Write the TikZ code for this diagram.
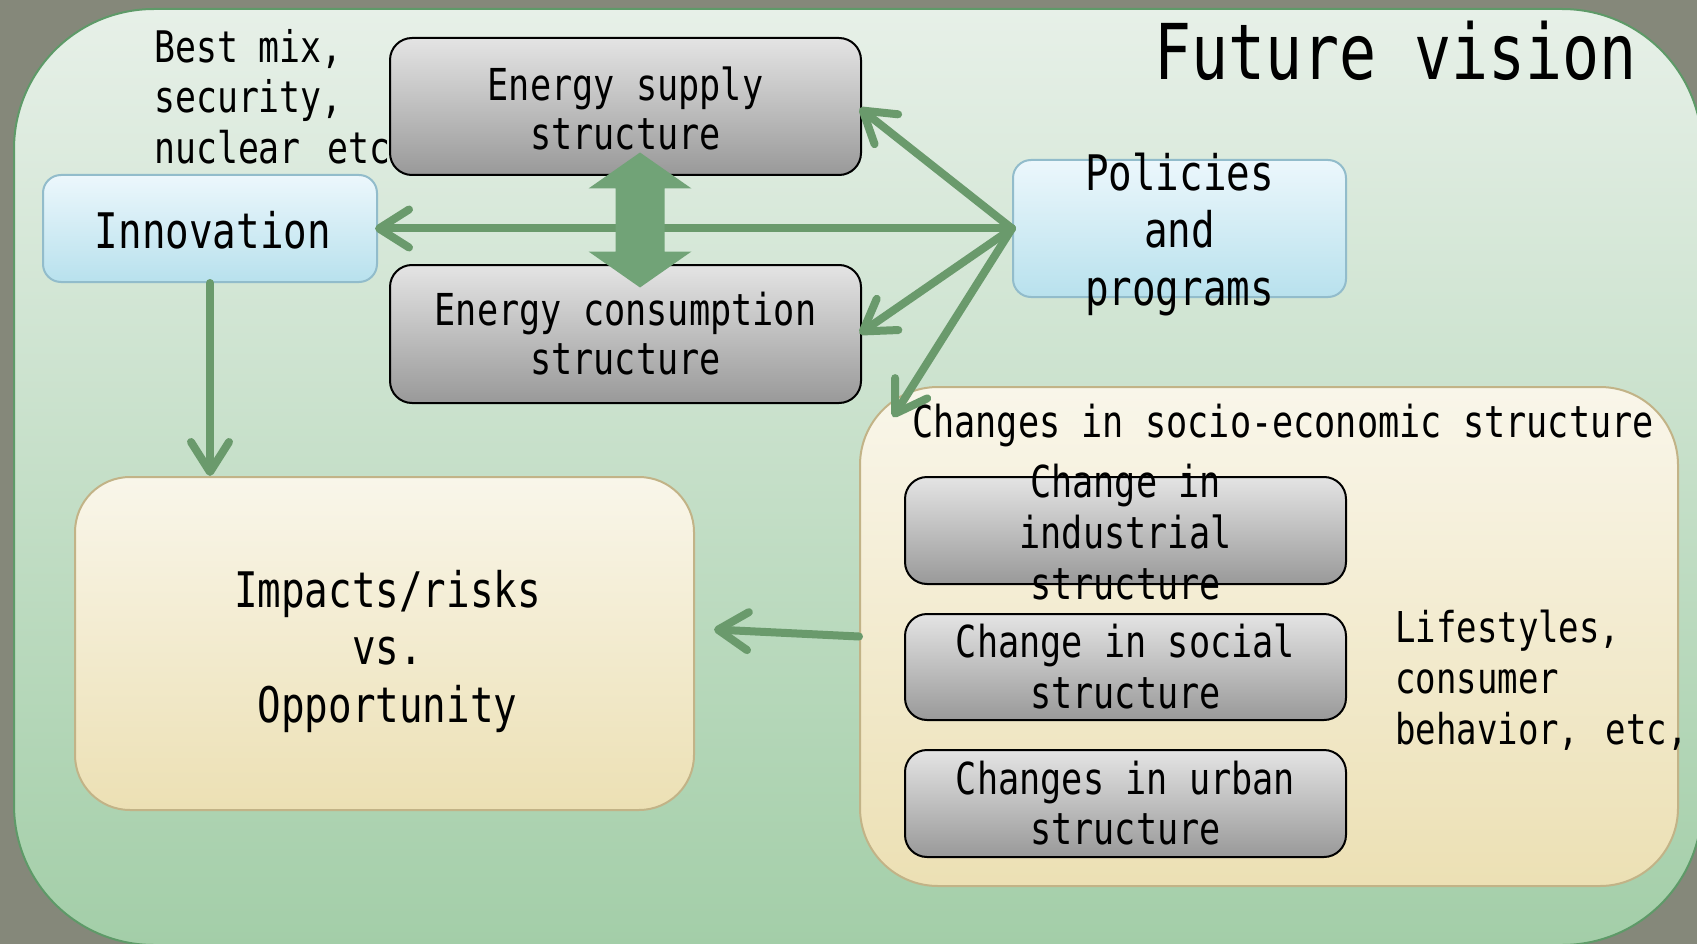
\documentclass[tikz,border=0pt]{standalone}
\usepackage{fontspec}
\setmainfont{DejaVu Sans Mono}[FakeStretch=0.8]
\usetikzlibrary{arrows.meta,calc}
\definecolor{bggray}{HTML}{85887A}
\definecolor{gtop}{HTML}{E7F0E8}
\definecolor{gbot}{HTML}{A3CEA8}
\definecolor{gline}{HTML}{5E9A68}
\definecolor{btop}{HTML}{ECF7FC}
\definecolor{bbot}{HTML}{B8E1ED}
\definecolor{bline}{HTML}{92BCCB}
\definecolor{ytop}{HTML}{F9F6EA}
\definecolor{ybot}{HTML}{ECE0B4}
\definecolor{yline}{HTML}{C2B387}
\definecolor{ktop}{HTML}{E4E4E4}
\definecolor{kbot}{HTML}{999999}
\definecolor{arr}{HTML}{6A9A6C}
\definecolor{darr}{HTML}{71A377}
\newcommand\myfs[2]{\fontsize{#1}{#2}\selectfont}
\begin{document}
\begin{tikzpicture}[x=1pt,y=-1pt,
  graybox/.style={draw=black, line width=2pt, rounded corners=22pt, top color=ktop, bottom color=kbot, inner sep=0pt},
  bluebox/.style={draw=bline, line width=2pt, rounded corners=18pt, top color=btop, bottom color=bbot, inner sep=0pt},
  beigebox/.style={draw=yline, line width=2pt, top color=ytop, bottom color=ybot, inner sep=0pt},
  txt/.style={inner sep=0pt, align=center},
  link/.style={draw=arr, line width=8pt, line cap=round, -{Straight Barb[length=30pt,width=38pt,round]}}
]
\useasboundingbox (0,0) rectangle (1697,944);
\clip (0,0) rectangle (1697,944);
\fill[bggray] (0,0) rectangle (1697,944);
\draw[gline, line width=2pt, top color=gtop, bottom color=gbot, rounded corners=140pt] (14,9) rectangle (1702,945);

\node[txt, align=left, anchor=north west, font=\myfs{43.5}{50.5}] (best) at (154,26.6) {\strut Best mix,\\\strut security,\\\strut nuclear\hspace{6pt} etc};
\node[txt, anchor=base, font=\myfs{77}{90}] (fv) at (1395.5,80) {Future vision};

% boxes
\node[graybox, minimum width=471pt, minimum height=137pt] (sup) at (625.5,106.5) {};
\node[graybox, minimum width=471pt, minimum height=138pt] (con) at (625.5,334) {};
\node[bluebox, minimum width=334pt, minimum height=107pt] (inn) at (210,228.5) {};
\node[bluebox, minimum width=333pt, minimum height=137pt] (pol) at (1179.5,228.5) {};
\node[beigebox, rounded corners=78pt, minimum width=818pt, minimum height=499pt] (soc) at (1269,636.5) {};
\node[beigebox, rounded corners=55pt, minimum width=619pt, minimum height=333pt] (imp) at (384.5,643.5) {};
\node[graybox, minimum width=441pt, minimum height=107pt] (ind) at (1125.5,530.5) {};
\node[graybox, minimum width=441pt, minimum height=106pt] (scl) at (1125.5,667) {};
\node[graybox, minimum width=441pt, minimum height=107pt] (urb) at (1125.5,803.5) {};

% texts
\node[txt, anchor=north, font=\myfs{44}{49}] (supt) at (625.5,65.7) {\strut Energy supply\\\strut structure};
\node[txt, anchor=north, font=\myfs{44}{49}] (cont) at (625.5,290.7) {\strut Energy consumption\\\strut structure};
\node[txt, anchor=base, font=\myfs{49}{57}] (innt) at (213,248) {Innovation};
\node[txt, anchor=north, font=\myfs{49}{57.5}] (polt) at (1179.5,149.75) {\strut Policies\\\strut and\\\strut programs};
\node[txt, anchor=base, font=\myfs{44}{51}] (soct) at (1283,437) {Changes in socio-economic structure};
\node[txt, anchor=north, font=\myfs{44}{51}] (indt) at (1125.5,461.3) {\strut Change in\\\strut industrial\\\strut structure};
\node[txt, anchor=north, font=\myfs{44}{51}] (sclt) at (1125.5,621.3) {\strut Change in social\\\strut structure};
\node[txt, anchor=north, font=\myfs{44}{50}] (urbt) at (1125.5,759) {\strut Changes in urban\\\strut structure};
\node[txt, align=left, anchor=north west, font=\myfs{42.5}{51}] (life) at (1395,606.3) {\strut Lifestyles,\\\strut consumer\\\strut behavior,\hspace{6pt} etc,};
\node[txt, anchor=north, font=\myfs{49}{57.5}] (impt) at (387.5,566.75) {\strut Impacts/risks\\\strut vs.\\\strut Opportunity};

% connectors
\draw[link, shorten >=-3pt] (pol.west) -- (inn.east);
\draw[link, shorten >=-3pt] (pol.west) -- ([shift={(0,3.5)}]sup.east);
\draw[link, shorten >=-3pt] (pol.west) -- ([shift={(0,-2)}]con.east);
\draw[link] (pol.west) -- ([shift={(34,31)}]soc.north west);
\draw[link] (soc.west) -- ([shift={(19,-14)}]imp.east);
\draw[link] (inn.south) -- (inn.south |- imp.north);

% double arrow between supply and consumption
\coordinate (dc) at ($(sup.south)!0.5!(con.north)$);
\fill[darr] ([shift={(14.5,-67.5)}]dc) -- ++(51.5,36) -- ++(-27,0) -- ++(0,63) -- ++(27,0) -- ++(-51.5,36) -- ++(-51.5,-36) -- ++(27,0) -- ++(0,-63) -- ++(-27,0) -- cycle;
\end{tikzpicture}
\end{document}
